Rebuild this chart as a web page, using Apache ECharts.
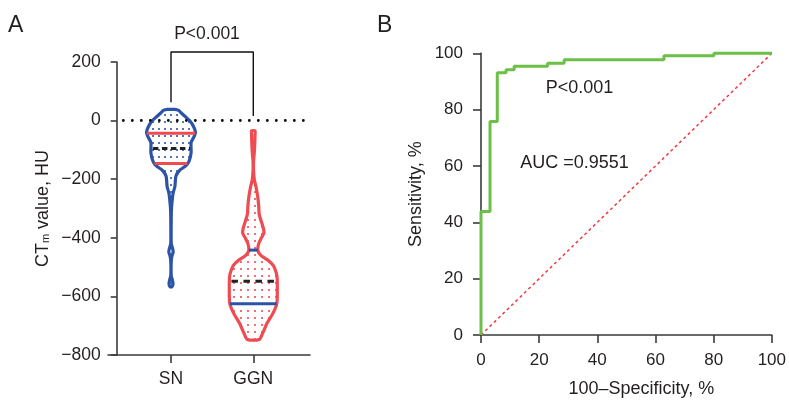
<!DOCTYPE html>
<html><head><meta charset="utf-8">
<script src="https://cdn.jsdelivr.net/npm/echarts@6/dist/echarts.min.js"></script>
<style>html,body{margin:0;padding:0;background:#fff}#c{width:789px;height:403px}</style>
</head><body><div id="c"></div>
<script>
// ---------- DATA ----------
const groups = ['SN', 'GGN'];
// violin profiles: value levels (HU) and relative density (0-100)
const snLevels  = [38, 35, 25, 10, 0, -20, -40, -55, -75, -110, -140, -155, -170, -190, -224, -250, -280, -300, -330, -420, -435, -448, -462, -480, -530, -545, -558, -567];
const snDensity = [14, 31, 43, 63, 76, 92, 100, 94, 82, 82, 73, 59, 35, 20, 16, 8, 4, 2, 1, 1, 6, 9, 4, 1, 1, 6, 8, 4];
const ggnLevels  = [-35, -50, -80, -110, -140, -170, -200, -230, -260, -290, -320, -345, -370, -385, -400, -420, -442, -460, -476, -495, -515, -533, -578, -624, -658, -692, -726, -747];
const ggnDensity = [7, 7, 6, 4, 1, 1, 4, 12, 18, 22, 24, 33, 42, 43, 33, 22, 18, 31, 59, 82, 92, 97, 98, 96, 80, 56, 38, 24];
// quartiles: [Q3, median, Q1]
const snQuartiles  = [-43, -95, -146];
const ggnQuartiles = [-442, -548, -625];
// significance bracket: [left end, top, right end] in HU
const bracket = [63, 234, 16];
// ROC curve
const rocFpr  = [0, 0, 3.1, 5.6, 8.6, 11.4, 22.9, 28.6, 62.9, 80.1, 100];
const rocSens = [0, 43.8, 75.8, 93.1, 94.2, 95.4, 96.5, 97.7, 99.1, 100, 100];
const diagonal = [[0, 0], [100, 100]];

// ---------- STYLE ----------
const FONT = 'Liberation Sans, Arial, Helvetica, sans-serif';
const TXT = '#231f20';
const AX = '#3a3a3a';
const BLUE = '#2c54a6';
const RED = '#ef4b51';
const GREEN = '#6cbf47';
const HALF = 24.5; // px half-width at density 100

function dotPattern(color, w, h) {
  const cv = document.createElement('canvas');
  cv.width = w; cv.height = h;
  const ctx = cv.getContext('2d');
  ctx.fillStyle = color;
  ctx.globalAlpha = 0.8;
  ctx.fillRect(Math.floor(w / 2) - 1, Math.floor(h / 2) - 1, 2, 2);
  return { image: cv, repeat: 'repeat' };
}
const patterns = [dotPattern(BLUE, 6, 7), dotPattern(RED, 7, 7)];

function widthAt(lv, dn, v) {
  for (let k = 0; k < lv.length - 1; k++) {
    if (v <= lv[k] && v >= lv[k + 1]) {
      const t = (lv[k] - v) / (lv[k] - lv[k + 1]);
      return dn[k] + (dn[k + 1] - dn[k]) * t;
    }
  }
  return 0;
}

function renderViolin(params, api) {
  const i = params.dataIndex;
  const pos = api.value(0);
  const lv = i === 0 ? snLevels : ggnLevels;
  const dn = i === 0 ? snDensity : ggnDensity;
  const q = i === 0 ? snQuartiles : ggnQuartiles;
  const stroke = i === 0 ? BLUE : RED;
  const qColor = i === 0 ? RED : BLUE;
  const left = [], right = [];
  for (let k = 0; k < lv.length; k++) {
    const c = api.coord([pos, lv[k]]);
    const w = dn[k] / 100 * HALF;
    left.push([c[0] - w, c[1]]);
    right.unshift([c[0] + w, c[1]]);
  }
  const children = [{
    type: 'polygon',
    shape: { points: left.concat(right), smooth: 0.25 },
    style: { fill: patterns[i], stroke: stroke, lineWidth: 3.2, lineJoin: 'round' }
  }];
  q.forEach((v, j) => {
    const c = api.coord([pos, v]);
    const w = widthAt(lv, dn, v) / 100 * HALF;
    const median = j === 1;
    children.push({
      type: 'line',
      shape: { x1: c[0] - w + (median ? 2 : 0), y1: c[1], x2: c[0] + w - (median ? 1 : 0), y2: c[1] },
      style: {
        stroke: median ? '#222' : qColor, lineWidth: 3,
        lineDash: median ? (i === 0 ? [5.5, 3.5] : [6.5, 5.5]) : null
      }
    });
  });
  return { type: 'group', children: children };
}

const chart = echarts.init(document.getElementById('c'), null, { renderer: 'canvas' });
const minusFmt = v => String(v).replace('-', '\u2212');

chart.setOption({
  animation: false,
  backgroundColor: '#fff',
  textStyle: { fontFamily: FONT },
  grid: [
    { left: 108, top: 62, width: 202, height: 293 },
    { left: 481, top: 53.3, width: 291.3, height: 289 }
  ],
  xAxis: [
    {
      gridIndex: 0, type: 'value', min: 0.2345, max: 2.689,
      axisLine: { onZero: false, lineStyle: { color: AX, width: 1.6 } },
      axisTick: { customValues: [1, 2], length: 8, lineStyle: { color: AX, width: 1.6 } },
      axisLabel: { customValues: [1, 2], formatter: v => groups[Math.round(v) - 1], fontSize: 17.5, color: TXT, margin: 15, fontFamily: FONT },
      splitLine: { show: false }
    },
    {
      gridIndex: 1, type: 'value', min: 0, max: 100, interval: 20,
      axisLine: { onZero: false, lineStyle: { color: AX, width: 1.6 } },
      axisTick: { length: 8, lineStyle: { color: AX, width: 1.6 } },
      axisLabel: { fontSize: 17, color: TXT, margin: 17, fontFamily: FONT },
      splitLine: { show: false },
      name: '100\u2013Specificity, %', nameLocation: 'middle', nameGap: 45,
      nameTextStyle: { fontSize: 18, color: TXT, fontFamily: FONT, padding: [0, 0, 0, 30] }
    }
  ],
  yAxis: [
    {
      gridIndex: 0, type: 'value', min: -800, max: 200, interval: 200, offset: -8.7,
      axisLine: { show: true, onZero: false, lineStyle: { color: AX, width: 1.6 } },
      axisTick: { show: true, length: 6, lineStyle: { color: AX, width: 1.6 } },
      axisLabel: { fontSize: 17.5, color: TXT, margin: 16, formatter: minusFmt, fontFamily: FONT },
      splitLine: { show: false },
      name: '{a|CT}{s|m}{a| value, HU}', nameLocation: 'middle', nameGap: 65, nameRotate: 90,
      nameTextStyle: {
        rich: {
          a: { fontSize: 18, color: TXT, fontFamily: FONT },
          s: { fontSize: 11, color: TXT, fontFamily: FONT, verticalAlign: 'bottom', padding: [6, 0, 0, 0] }
        }
      }
    },
    {
      gridIndex: 1, type: 'value', min: 0, max: 100, interval: 20,
      axisLine: { show: true, onZero: false, lineStyle: { color: AX, width: 1.6 } },
      axisTick: { show: true, length: 8, lineStyle: { color: AX, width: 1.6 } },
      axisLabel: { fontSize: 17, color: TXT, margin: 18, fontFamily: FONT },
      splitLine: { show: false },
      name: 'Sensitivity, %', nameLocation: 'middle', nameGap: 56, nameRotate: 90,
      nameTextStyle: { fontSize: 18, color: TXT, fontFamily: FONT }
    }
  ],
  graphic: [
    { type: 'text', left: 8, top: 14, style: { text: 'A', fontSize: 23, fill: TXT, fontFamily: FONT } },
    { type: 'text', left: 377, top: 14, style: { text: 'B', fontSize: 23, fill: TXT, fontFamily: FONT } },
    { type: 'text', x: 207, y: 34, style: { text: 'P<0.001', fontSize: 17.5, fill: TXT, fontFamily: FONT, align: 'center', verticalAlign: 'middle' } },
    { type: 'text', x: 579.5, y: 88.5, style: { text: 'P<0.001', fontSize: 18, fill: TXT, fontFamily: FONT, align: 'center', verticalAlign: 'middle' } },
    { type: 'text', x: 574.5, y: 163, style: { text: 'AUC =0.9551', fontSize: 18, fill: TXT, fontFamily: FONT, align: 'center', verticalAlign: 'middle' } }
  ],
  series: [
    {
      type: 'line', xAxisIndex: 0, yAxisIndex: 0, data: [], silent: true,
      markLine: {
        symbol: 'none', silent: true, label: { show: false },
        lineStyle: { color: '#111', width: 2.8, type: [0.1, 8.9], cap: 'round' },
        data: [[{ coord: [0.42, 0] }, { coord: [2.66, 0] }]]
      }
    },
    {
      type: 'custom', xAxisIndex: 0, yAxisIndex: 0, clip: false,
      data: groups.map((g, i) => [i + 1, 0]),
      encode: { x: 0, y: 1 },
      renderItem: renderViolin, z: 3
    },
    {
      type: 'line', xAxisIndex: 0, yAxisIndex: 0, clip: false, symbol: 'none',
      data: [[1, bracket[0]], [1, bracket[1]], [2, bracket[1]], [2, bracket[2]]],
      lineStyle: { color: '#111', width: 1.4 }
    },
    {
      type: 'line', xAxisIndex: 1, yAxisIndex: 1, symbol: 'none', clip: false,
      data: diagonal,
      lineStyle: { color: '#f2383e', width: 1.5, type: [3, 3] }, z: 2
    },
    {
      type: 'line', xAxisIndex: 1, yAxisIndex: 1, symbol: 'none', step: 'end', clip: false,
      data: rocFpr.map((x, i) => [x, rocSens[i]]),
      lineStyle: { color: GREEN, width: 3 }, z: 3
    }
  ]
});
</script>
</body></html>
